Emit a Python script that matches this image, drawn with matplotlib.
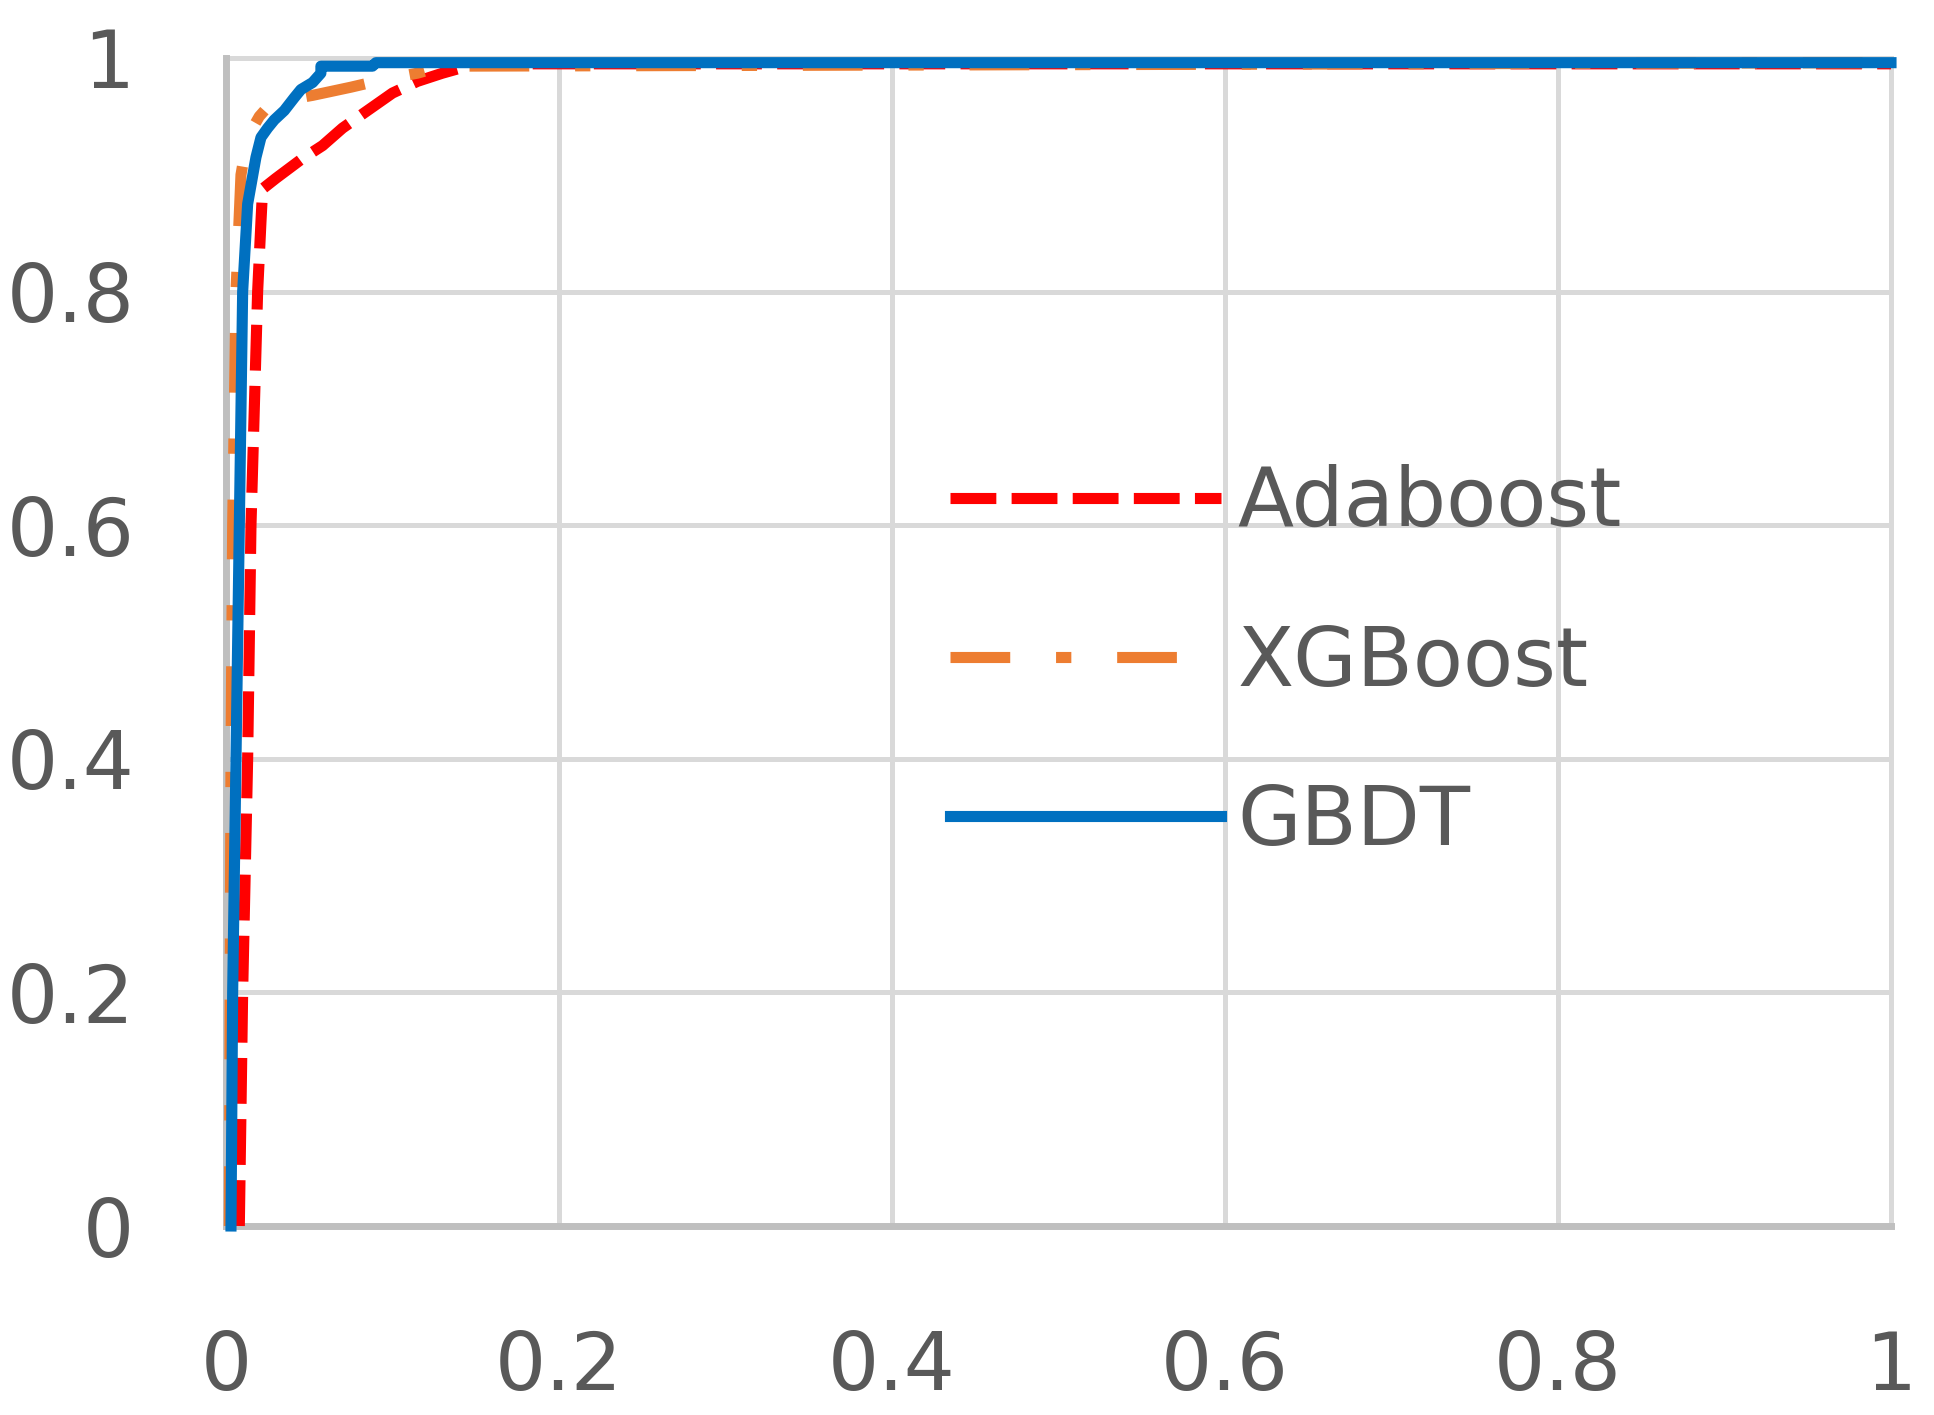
import matplotlib
matplotlib.use('Agg')
import matplotlib.pyplot as plt

# ROC curves (false positive rate, true positive rate)
ada_fpr = [0.008, 0.010, 0.013, 0.015, 0.019, 0.021, 0.022, 0.030, 0.045, 0.058, 0.070, 0.085, 0.100, 0.115, 0.130, 0.150, 1.0]
ada_tpr = [0.0, 0.2, 0.4, 0.6, 0.8, 0.86, 0.888, 0.897, 0.913, 0.925, 0.940, 0.955, 0.970, 0.980, 0.987, 0.995, 0.995]

xgb_fpr = [0.002, 0.003, 0.004, 0.006, 0.009, 0.012, 0.016, 0.020, 0.025, 0.028, 0.052, 0.075, 0.090, 0.100, 0.115, 0.130, 1.0]
xgb_tpr = [0.0, 0.4, 0.6, 0.8, 0.9, 0.925, 0.940, 0.950, 0.958, 0.962, 0.968, 0.975, 0.980, 0.983, 0.987, 0.993, 0.996]

gbdt_fpr = [0.003, 0.004, 0.006, 0.008, 0.010, 0.012, 0.013, 0.0155, 0.018, 0.021, 0.025, 0.029, 0.035, 0.041, 0.045, 0.052, 0.057, 0.057, 0.088, 0.090, 1.0]
gbdt_tpr = [0.0, 0.2, 0.4, 0.6, 0.8, 0.85, 0.875, 0.895, 0.915, 0.932, 0.940, 0.947, 0.955, 0.966, 0.973, 0.979, 0.987, 0.993, 0.993, 0.996, 0.996]

ticks = [0, 0.2, 0.4, 0.6, 0.8, 1.0]
tick_labels = ['0', '0.2', '0.4', '0.6', '0.8', '1']

plt.rcParams['lines.scale_dashes'] = False

fig = plt.figure(figsize=(19.34, 14.15), dpi=100)
ax = fig.add_axes([226/1934, 1 - 1226/1415, 1665/1934, 1168/1415])

ax.plot(ada_fpr, ada_tpr, color='#FF0000', lw=8, linestyle=(0, (33, 11)),
        dash_capstyle='butt', label='Adaboost', zorder=3, clip_on=False)
ax.plot(xgb_fpr, xgb_tpr, color='#ED7D31', lw=8, linestyle=(0, (43, 33, 11, 33)),
        dash_capstyle='butt', label='XGBoost', zorder=3, clip_on=False)
ax.plot(gbdt_fpr, gbdt_tpr, color='#0070C0', lw=8, label='GBDT', zorder=4, clip_on=False)

ax.set_xlim(0, 1)
ax.set_ylim(0, 1)
ax.set_xticks(ticks)
ax.set_xticklabels(tick_labels)
ax.set_yticks(ticks)
ax.set_yticklabels(tick_labels)
ax.tick_params(axis='both', length=0, labelsize=58, labelcolor='#595959')
ax.tick_params(axis='x', pad=74)
ax.tick_params(axis='y', pad=66)

ax.grid(True, color='#D9D9D9', lw=3.6)
ax.set_axisbelow(True)
for gl in ax.get_xgridlines() + ax.get_ygridlines():
    gl.set_clip_on(False)

for side in ['top', 'right']:
    ax.spines[side].set_visible(False)
for side in ['left', 'bottom']:
    ax.spines[side].set_color('#BFBFBF')
    ax.spines[side].set_linewidth(5)
    ax.spines[side].set_zorder(2.5)

leg = ax.legend(loc='center left', bbox_to_anchor=(0.435, 0.482), frameon=False,
                fontsize=59, handlelength=3.3, handletextpad=0.2,
                labelspacing=0.98, borderpad=0, borderaxespad=0)
for t in leg.get_texts():
    t.set_color('#595959')

fig.savefig('out.png', dpi=100)
